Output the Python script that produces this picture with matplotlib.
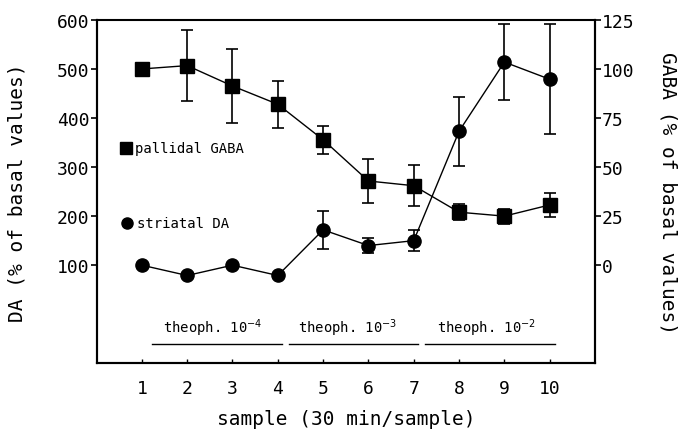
import matplotlib
matplotlib.use("Agg")
import matplotlib.pyplot as plt

plt.rcParams['font.family'] = ['DejaVu Sans Mono']

samples = [1, 2, 3, 4, 5, 6, 7, 8, 9, 10]

# striatal DA (% of basal), left axis
da_mean = [100, 79, 100, 79, 172, 140, 150, 373, 514, 479]
da_err = [0, 0, 0, 0, 39, 16, 21, 70, 78, 112]

# pallidal GABA (% of basal), right axis
gaba_mean = [100, 101.7, 91.3, 82, 63.9, 42.9, 40.5, 27, 25, 30.7]
gaba_err = [0, 18, 19, 12, 7, 11.3, 10.3, 4.2, 3.8, 6]

# theophylline periods
treat_labels = ['theoph. 10$^{-4}$', 'theoph. 10$^{-3}$', 'theoph. 10$^{-2}$']
treat_start = [1.22, 4.24, 7.25]
treat_end = [4.1, 7.1, 10.12]
treat_text_x = [2.57, 5.54, 8.6]

fig = plt.figure(figsize=(6.8, 4.35), dpi=100)
ax = fig.add_axes([0.142, 0.1625, 0.733, 0.7895])
ax2 = ax.twinx()

ax.errorbar(samples, da_mean, yerr=da_err, color='black', marker='o',
            markersize=9.5, linewidth=1.0, elinewidth=1.2, capsize=4, capthick=1.2)
ax2.errorbar(samples, gaba_mean, yerr=gaba_err, color='black', marker='s',
             markersize=10, linewidth=1.0, elinewidth=1.2, capsize=4, capthick=1.2)

ax.set_xlim(0, 11)
ax.set_ylim(-100, 600)
ax2.set_ylim(-50, 125)

ax.set_xticks(samples)
ax.set_yticks([100, 200, 300, 400, 500, 600])
ax2.set_yticks([0, 25, 50, 75, 100, 125])

ax.tick_params(axis='x', direction='in', length=3, width=1, labelsize=13, pad=11)
ax.tick_params(axis='y', direction='out', length=4, width=1.2, labelsize=13, pad=1)
ax2.tick_params(axis='y', direction='out', length=4, width=1.2, labelsize=13, pad=1)

for a in (ax, ax2):
    for s in a.spines.values():
        s.set_linewidth(1.5)
ax.spines['top'].set_linewidth(1.2)

ax.set_xlabel('sample (30 min/sample)', fontsize=14, labelpad=9)
ax.set_ylabel('DA (% of basal values)', fontsize=14, labelpad=22)
ax2.set_ylabel('GABA (% of basal values)', fontsize=14, rotation=270, labelpad=31)

# legend entries drawn by hand
ax.plot([0.65], [338], marker='s', color='black', markersize=8, clip_on=False)
ax.text(0.85, 338, 'pallidal GABA', fontsize=10, va='center', ha='left')
ax.plot([0.68], [186], marker='o', color='black', markersize=8, clip_on=False)
ax.text(0.9, 186, 'striatal DA', fontsize=10, va='center', ha='left')

for lab, x0, x1, xt in zip(treat_labels, treat_start, treat_end, treat_text_x):
    ax.plot([x0, x1], [-61, -61], color='black', linewidth=1.0)
    ax.text(xt, -26, lab, fontsize=10, ha='center', va='center')

fig.savefig('out.png', dpi=100)
